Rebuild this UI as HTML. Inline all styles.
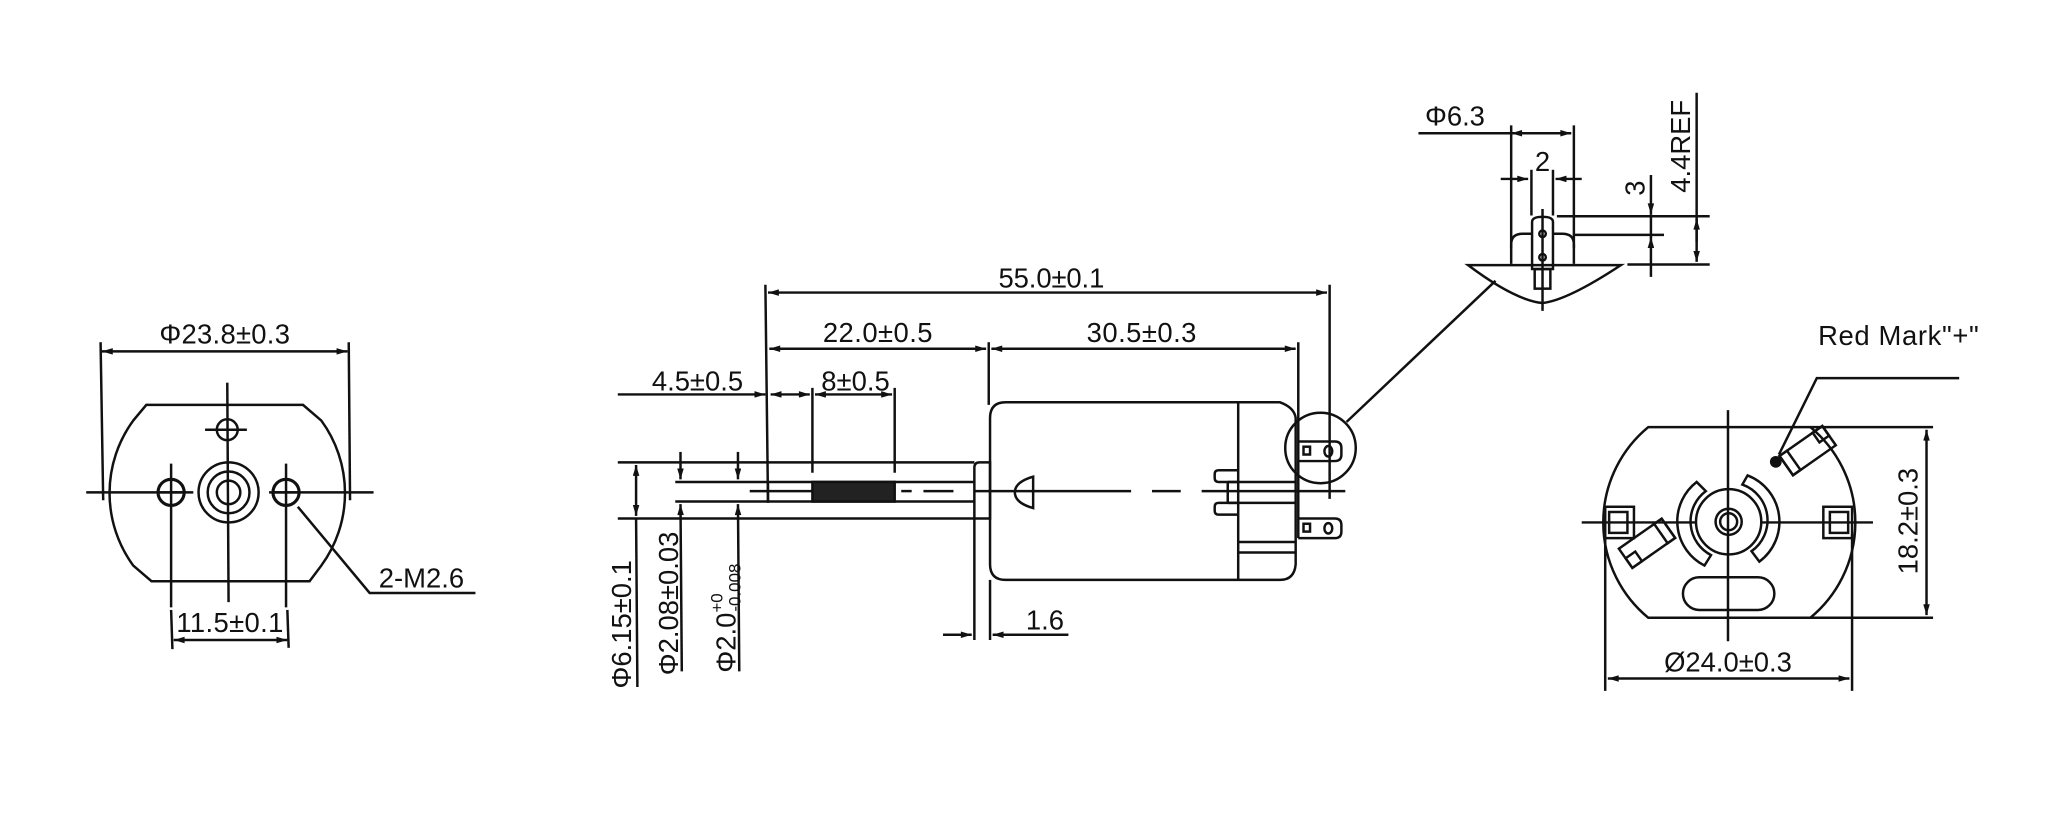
<!DOCTYPE html>
<html><head><meta charset="utf-8"><style>
html,body{margin:0;padding:0;background:#fff;}
svg{display:block;}
text{font-family:"Liberation Sans",Arial,sans-serif;fill:#111;}
</style></head><body>
<svg width="2048" height="838" viewBox="0 0 1568 641.6" xmlns="http://www.w3.org/2000/svg">
<defs>
<marker id="a" viewBox="0 0 10 6" refX="10" refY="3" markerWidth="10" markerHeight="5" orient="auto-start-reverse" markerUnits="userSpaceOnUse"><path d="M0,0 L10,3 L0,6 Z" fill="#111"/></marker>
</defs>
<rect width="1568" height="641.6" fill="#fff"/>
<g fill="none" stroke="#111" stroke-width="1.9">
<path d="M112,310 L232,310 L246,322 A94,94 0 0 1 246,433 L237,445 L116,445 L102,433 A94,94 0 0 1 102,322 Z"/>
<line x1="77" y1="262" x2="79" y2="383"/><line x1="267" y1="262" x2="268" y2="383"/>
<line x1="78" y1="269" x2="266" y2="269" marker-start="url(#a)" marker-end="url(#a)"/>
<line x1="66" y1="377" x2="148" y2="377"/><line x1="206" y1="377" x2="286" y2="377"/>
<line x1="174" y1="293" x2="175" y2="461"/>
<circle cx="174" cy="329" r="8"/><line x1="157" y1="329" x2="189" y2="329"/>
<circle cx="175" cy="377" r="23"/><circle cx="175" cy="377" r="16"/><circle cx="175" cy="377" r="9"/>
<circle cx="131" cy="377" r="10" stroke-width="2.4"/><circle cx="219" cy="377" r="10" stroke-width="2.4"/>
<line x1="120" y1="377" x2="142" y2="377"/><line x1="208" y1="377" x2="230" y2="377"/>
<line x1="131" y1="355" x2="131" y2="465"/><line x1="131" y1="467" x2="132" y2="497"/>
<line x1="219" y1="355" x2="219" y2="465"/><line x1="220" y1="467" x2="221" y2="496"/>
<line x1="133" y1="490" x2="220" y2="490" marker-start="url(#a)" marker-end="url(#a)"/>
<polyline points="228,388 283,454 364,454"/>

<line x1="586" y1="218" x2="588" y2="385"/>
<line x1="1018" y1="218" x2="1018" y2="382"/>
<line x1="588" y1="224" x2="1016" y2="224" marker-start="url(#a)" marker-end="url(#a)"/>
<line x1="757" y1="262" x2="757" y2="310"/>
<line x1="994" y1="262" x2="994" y2="412"/>
<line x1="589" y1="267" x2="755" y2="267" marker-start="url(#a)" marker-end="url(#a)"/>
<line x1="759" y1="267" x2="992" y2="267" marker-start="url(#a)" marker-end="url(#a)"/>
<line x1="473" y1="302" x2="586" y2="302" marker-end="url(#a)"/>
<line x1="590" y1="302" x2="620" y2="302" marker-start="url(#a)" marker-end="url(#a)"/>
<line x1="624" y1="302" x2="683" y2="302" marker-start="url(#a)" marker-end="url(#a)"/>
<line x1="622" y1="297" x2="622" y2="362"/><line x1="685" y1="297" x2="685" y2="362"/>
<line x1="473" y1="354" x2="746" y2="354"/><line x1="473" y1="397" x2="746" y2="397"/>
<line x1="517" y1="369" x2="746" y2="369"/><line x1="517" y1="384" x2="746" y2="384"/>
<line x1="588" y1="369" x2="588" y2="384"/>
<rect x="622" y="369" width="63" height="15" fill="#222" stroke="#111"/>
<path d="M746,397 L746,358 Q746,354 750,354 L758,354 L758,397 Z"/>
<line x1="574" y1="376" x2="622" y2="376"/>
<line x1="690" y1="376" x2="698" y2="376"/><line x1="707" y1="376" x2="730" y2="376"/>
<line x1="746" y1="376" x2="866" y2="376"/><line x1="882" y1="376" x2="904" y2="376"/>
<line x1="920" y1="376" x2="1030" y2="376"/>
<path d="M758,320 Q758,308 770,308 L980,308 Q991,312 992,320 L992,432 Q991,444 980,444 L770,444 Q758,444 758,432 Z"/>
<line x1="948" y1="308" x2="948" y2="444"/>
<path d="M791,365 L791,389 Q777,385 777,377 Q777,369 791,365 Z"/>
<path d="M948,360 L933,360 Q930,360 930,363 L930,366 Q930,369 933,369 L948,369"/>
<path d="M948,385 L933,385 Q930,385 930,388 L930,391 Q930,394 933,394 L948,394"/>
<line x1="940" y1="369" x2="992" y2="369"/><line x1="940" y1="385" x2="992" y2="385"/>
<line x1="940" y1="369" x2="940" y2="385"/>
<line x1="948" y1="415" x2="992" y2="415"/><line x1="948" y1="423" x2="992" y2="423"/>
<path d="M994,338 L1022,338 Q1027,338 1027,343 L1027,348 Q1027,353 1022,353 L994,353"/>
<rect x="998" y="342" width="5" height="6"/><ellipse cx="1017" cy="345.5" rx="3" ry="4"/>
<path d="M994,397 L1022,397 Q1027,397 1027,402 L1027,407 Q1027,412 1022,412 L994,412"/>
<rect x="998" y="401" width="5" height="6"/><ellipse cx="1017" cy="404.5" rx="3" ry="4"/>
<circle cx="1011" cy="343" r="27"/>
<line x1="1031" y1="323" x2="1145" y2="215"/>
<line x1="487" y1="356" x2="487" y2="395" marker-start="url(#a)" marker-end="url(#a)"/>
<line x1="487" y1="397" x2="488" y2="526"/>
<line x1="521" y1="346" x2="521" y2="367" marker-end="url(#a)"/>
<line x1="521" y1="386" x2="522" y2="514" marker-start="url(#a)"/>
<line x1="565" y1="346" x2="565" y2="367" marker-end="url(#a)"/>
<line x1="565" y1="386" x2="566" y2="514" marker-start="url(#a)"/>
<line x1="746" y1="397" x2="746" y2="490"/><line x1="758" y1="444" x2="758" y2="490"/>
<line x1="722" y1="486" x2="744" y2="486" marker-end="url(#a)"/>
<line x1="818" y1="486" x2="760" y2="486" marker-end="url(#a)"/>

<line x1="1086" y1="102" x2="1203" y2="102" marker-end="url(#a)"/>
<line x1="1159" y1="102" x2="1157" y2="102" marker-end="url(#a)"/>
<line x1="1157" y1="96" x2="1157" y2="190"/><line x1="1205" y1="96" x2="1205" y2="190"/>
<line x1="1149" y1="137" x2="1170" y2="137" marker-end="url(#a)"/>
<line x1="1211" y1="137" x2="1191" y2="137" marker-end="url(#a)"/>
<line x1="1172.5" y1="130" x2="1172.5" y2="165"/><line x1="1189" y1="130" x2="1189" y2="165"/>
<path d="M1157,202 L1157,187 Q1157,179 1166,179 L1196,179 Q1205,179 1205,187 L1205,202"/>
<path d="M1173,206 L1173,170 Q1173,166 1181,166 Q1189,166 1189,170 L1189,206 Z" fill="#fff"/>
<circle cx="1181" cy="179" r="2.5"/><circle cx="1181" cy="197" r="2.5"/>
<rect x="1175" y="206" width="12" height="15"/>
<path d="M1124,203 L1241,203 Q1200,230 1181,232 Q1160,230 1124,203 Z"/>
<line x1="1181" y1="160" x2="1181" y2="238"/>
<line x1="1192" y1="165.6" x2="1309" y2="165.6"/>
<line x1="1205" y1="179.8" x2="1274" y2="179.8"/>
<line x1="1246" y1="202.5" x2="1309" y2="202.5"/>
<line x1="1264" y1="134" x2="1264" y2="164" marker-end="url(#a)"/>
<line x1="1264" y1="212" x2="1264" y2="181.5" marker-end="url(#a)"/>
<line x1="1264" y1="164" x2="1264" y2="182"/>
<line x1="1299" y1="71" x2="1299" y2="200.5" marker-end="url(#a)"/>
<line x1="1299" y1="185" x2="1299" y2="167.5" marker-end="url(#a)"/>

<path d="M1262,327 L1386,327 A94.5,94.5 0 0 1 1386,473 L1262,473 A94.5,94.5 0 0 1 1262,327 Z"/>
<line x1="1211" y1="400" x2="1298" y2="400"/><line x1="1349" y1="400" x2="1434" y2="400"/>
<line x1="1323" y1="314" x2="1323" y2="491"/>
<line x1="1386" y1="327" x2="1480" y2="327"/><line x1="1386" y1="473" x2="1480" y2="473"/>
<line x1="1475" y1="329" x2="1475" y2="471" marker-start="url(#a)" marker-end="url(#a)"/>
<line x1="1229" y1="409" x2="1229" y2="529"/><line x1="1418" y1="409" x2="1418" y2="529"/>
<line x1="1231" y1="519.5" x2="1416" y2="519.5" marker-start="url(#a)" marker-end="url(#a)"/>
<circle cx="1323.5" cy="399.5" r="25"/><circle cx="1323.5" cy="399.5" r="10"/><circle cx="1323.5" cy="399.5" r="6.5"/>
<path d="M1306,376 A29,29 0 0 0 1310,425 L1305,433 A38,38 0 0 1 1299,369 Z"/>
<path d="M1334,371 A29,29 0 0 1 1341,422 L1347,430 A38,38 0 0 0 1338,364 Z"/>
<rect x="1229" y="388" width="22" height="24"/><rect x="1232" y="392" width="14" height="16"/>
<rect x="1396" y="388" width="22" height="24"/><rect x="1401" y="392" width="14" height="16"/>
<g transform="translate(1384,345) rotate(-35)"><rect x="-20" y="-9" width="40" height="18"/><rect x="-20" y="-9" width="7" height="18"/><rect x="11" y="-9" width="9" height="9"/></g>
<g transform="translate(1261,416) rotate(-35)"><rect x="-20" y="-9" width="40" height="18"/><rect x="13" y="-9" width="7" height="18"/><rect x="-20" y="0" width="9" height="9"/></g>
<rect x="1288.5" y="442" width="70" height="25" rx="12.5"/>
<polyline points="1500,289.5 1391,289.5 1362,348"/>
</g>
<circle cx="1359.6" cy="353.6" r="4.5" fill="#111"/>

<g font-size="21">
<text x="172" y="263" text-anchor="middle" textLength="100">Φ23.8±0.3</text>
<text x="176" y="484" text-anchor="middle" textLength="82">11.5±0.1</text>
<text x="290" y="450">2-M2.6</text>
<text x="805" y="220" text-anchor="middle" textLength="81">55.0±0.1</text>
<text x="672" y="262" text-anchor="middle" textLength="84">22.0±0.5</text>
<text x="874" y="262" text-anchor="middle" textLength="84">30.5±0.3</text>
<text x="534" y="299" text-anchor="middle">4.5±0.5</text>
<text x="655" y="299" text-anchor="middle">8±0.5</text>
<text x="800" y="482" text-anchor="middle">1.6</text>
<text transform="translate(483,478) rotate(-90)" text-anchor="middle">Φ6.15±0.1</text>
<text transform="translate(519,462) rotate(-90)" text-anchor="middle">Φ2.08±0.03</text>
<text transform="translate(563,515) rotate(-90)">Φ2.0<tspan font-size="13" dy="-10">+0</tspan><tspan font-size="13" dx="-14" dy="14">-0.008</tspan></text>
<text x="1091" y="96">Φ6.3</text>
<text x="1181" y="131" text-anchor="middle">2</text>
<text transform="translate(1259,144) rotate(-90)" text-anchor="middle">3</text>
<text transform="translate(1294,112) rotate(-90)" text-anchor="middle">4.4REF</text>
<text x="1392" y="264" textLength="123">Red Mark"+"</text>
<text transform="translate(1468,399) rotate(-90)" text-anchor="middle">18.2±0.3</text>
<text x="1323" y="514" text-anchor="middle">Ø24.0±0.3</text>
</g>
</svg>
</body></html>
